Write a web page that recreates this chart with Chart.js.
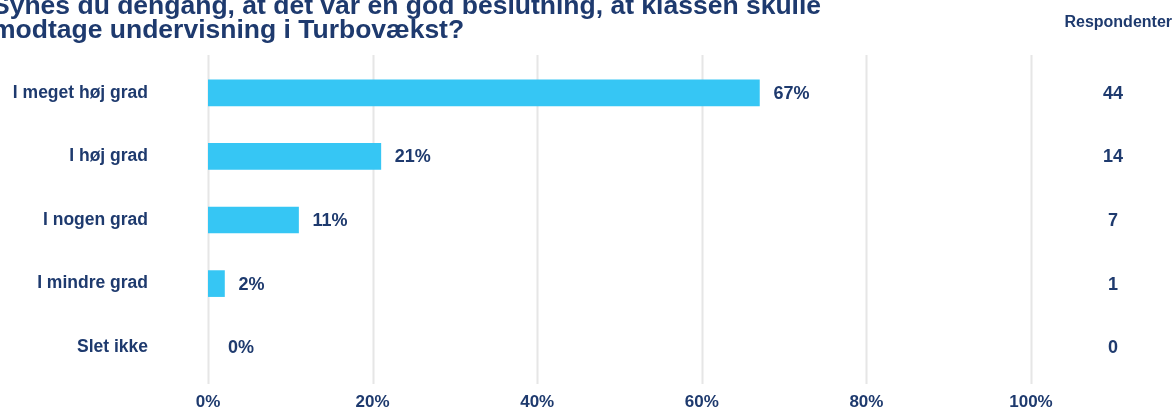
<!DOCTYPE html>
<html>
<head>
<meta charset="utf-8">
<script src="https://cdn.jsdelivr.net/npm/chart.js@4"></script>
<style>
  html, body { margin: 0; padding: 0; background: #fff; overflow: hidden; }
  canvas { display: block; }
</style>
</head>
<body>
<canvas id="surveyChart" width="1175" height="408"></canvas>
<script>
const categories = ['I meget høj grad', 'I høj grad', 'I nogen grad', 'I mindre grad', 'Slet ikke'];
const percentages = [67, 21, 11, 2, 0];
const respondents = [44, 14, 7, 1, 0];
const xTicks = [0, 20, 40, 60, 80, 100];
const titleLines = [
    'Synes du dengang, at det var en god beslutning, at klassen skulle',
    'modtage undervisning i Turbovækst?'
];
const columnTitle = 'Respondenter';

const navy = '#1e3a6e';
const barColor = '#36c6f4';
const gridColor = '#e6e6e6';
const fontFamily = '"Liberation Sans", Arial, sans-serif';

// vertical grid lines, a little taller than the plot area
const gridPlugin = {
    id: 'gridLines',
    beforeDatasetsDraw(chart) {
        const ctx = chart.ctx;
        const area = chart.chartArea;
        const x = chart.scales.x;
        ctx.save();
        ctx.strokeStyle = gridColor;
        ctx.lineWidth = 2;
        xTicks.forEach(t => {
            const px = Math.round(x.getPixelForValue(t)) + 0.5;
            ctx.beginPath();
            ctx.moveTo(px, area.top - 6);
            ctx.lineTo(px, area.bottom + 5);
            ctx.stroke();
        });
        ctx.restore();
    }
};

const labelPlugin = {
    id: 'labels',
    afterDatasetsDraw(chart) {
        const ctx = chart.ctx;
        const x = chart.scales.x;
        const meta = chart.getDatasetMeta(0);
        ctx.save();
        ctx.fillStyle = navy;
        ctx.textBaseline = 'middle';
        meta.data.forEach((bar, i) => {
            ctx.font = 'bold 18px ' + fontFamily;
            ctx.textAlign = 'left';
            const lx = Math.max(bar.x + 14, x.getPixelForValue(0) + 20);
            ctx.fillText(percentages[i] + '%', lx, bar.y + 1);
            ctx.textAlign = 'center';
            ctx.fillText(String(respondents[i]), 1113, bar.y + 1);
        });
        ctx.font = 'bold 16px ' + fontFamily;
        ctx.textAlign = 'right';
        ctx.fillText(columnTitle, 1172, 23);

        ctx.font = 'bold 26.5px ' + fontFamily;
        ctx.textAlign = 'left';
        ctx.textBaseline = 'alphabetic';
        ctx.fillText(titleLines[0], -8, 14);
        ctx.fillText(titleLines[1], -8, 38);
        ctx.restore();
    }
};

const ctx = document.getElementById('surveyChart').getContext('2d');
new Chart(ctx, {
    type: 'bar',
    data: {
        labels: categories,
        datasets: [{
            data: percentages,
            backgroundColor: percentages.map(v => v > 0 ? barColor : 'rgba(0,0,0,0)'),
            barThickness: 26,
            borderWidth: 0
        }]
    },
    options: {
        indexAxis: 'y',
        responsive: false,
        animation: false,
        layout: { padding: { top: 61, right: 144, left: 0, bottom: 0 } },
        plugins: {
            legend: { display: false },
            tooltip: { enabled: false }
        },
        scales: {
            x: {
                min: 0,
                max: 100,
                afterFit(scale) {
                    scale.height = 29;
                    scale.paddingLeft = 0;
                    scale.paddingRight = 0;
                },
                afterBuildTicks(scale) { scale.ticks = xTicks.map(v => ({ value: v })); },
                grid: { display: false, drawTicks: false },
                border: { display: false },
                ticks: {
                    padding: 13,
                    color: navy,
                    font: { family: fontFamily, size: 17, weight: 'bold' },
                    callback: v => v + '%'
                }
            },
            y: {
                afterFit(scale) {
                    scale.width = 208;
                    scale.paddingTop = 0;
                    scale.paddingBottom = 0;
                },
                grid: { display: false, drawTicks: false },
                border: { display: false },
                ticks: {
                    padding: 60,
                    color: navy,
                    font: { family: fontFamily, size: 17.5, weight: 'bold' }
                }
            }
        }
    },
    plugins: [gridPlugin, labelPlugin]
});
</script>
</body>
</html>
